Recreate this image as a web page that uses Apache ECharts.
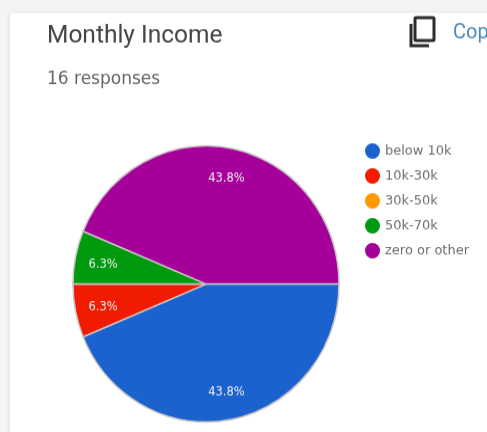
<!DOCTYPE html>
<html>
<head>
<meta charset="utf-8">
<style>
html,body{margin:0;padding:0;background:#f4f4f4;overflow:hidden;width:487px;height:432px}
/* The whole card is drawn slightly taller than wide */
#c{width:487px;height:416px;transform:scaleY(1.038);transform-origin:0 0}
</style>
<script src="https://cdn.jsdelivr.net/npm/echarts@6/dist/echarts.min.js"></script>
</head>
<body>
<div id="c"></div>
<script>
const categories = ['below 10k', '10k-30k', '30k-50k', '50k-70k', 'zero or other'];
const responses = [7, 1, 0, 1, 7];
const sliceColors = ['#1c62cf', '#f01b00', '#ff9900', '#009a0f', '#a5009a'];
const titleText = 'Monthly Income';
const subtitleText = '16 responses';

const total = responses.reduce((a, b) => a + b, 0);
const radius = 133;
const labelRadius = 102;

// Angle of a slice's midpoint, in radians clockwise from east.
function midAngle(index) {
  const before = responses.slice(0, index).reduce((a, b) => a + b, 0);
  return ((before + responses[index] / 2) / total) * 2 * Math.PI;
}

const chart = echarts.init(document.getElementById('c'), null, { renderer: 'canvas' });
chart.setOption({
  animation: false,
  backgroundColor: '#f4f4f4',
  textStyle: { fontFamily: 'Roboto' },
  title: [
    { text: titleText, left: 42, top: 17,
      textStyle: { fontFamily: 'Roboto', fontSize: 24.5, fontWeight: 'normal', color: '#454545' } },
    { text: subtitleText, left: 42, top: 63,
      textStyle: { fontFamily: 'DejaVu Sans', fontSize: 17, fontWeight: 'normal', color: '#666666' } }
  ],
  legend: {
    orient: 'vertical',
    left: 360,
    top: 133,
    icon: 'circle',
    itemWidth: 15,
    itemHeight: 15,
    itemGap: 9,
    selectedMode: false,
    data: categories,
    itemStyle: { borderWidth: 0 },
    textStyle: { fontFamily: 'DejaVu Sans', fontSize: 13, color: '#6e6e6e', padding: [0, 0, 0, 0] }
  },
  graphic: [
    // Card surface behind the chart
    { type: 'rect', z: -10, silent: true,
      shape: { x: 10, y: 12.5, width: 490, height: 430 },
      style: { fill: '#ffffff', shadowBlur: 5, shadowColor: 'rgba(0,0,0,0.12)' } },
    // Copy icon: outlined front sheet with the edge of a second sheet behind it
    { type: 'rect', z: 5, silent: true,
      shape: { x: 415, y: 17, width: 19, height: 22, r: 1 },
      style: { fill: 'none', stroke: '#2c2c2c', lineWidth: 3 } },
    { type: 'polyline', z: 5, silent: true,
      shape: { points: [[411, 23], [411, 44], [429, 44]] },
      style: { fill: 'none', stroke: '#2c2c2c', lineWidth: 3 } },
    { type: 'text', z: 5, silent: true, x: 453, y: 22,
      style: { text: 'Copy', fontFamily: 'Roboto', fontSize: 20, fill: '#4d8ab8' } }
  ],
  series: [{
    type: 'pie',
    center: [206, 273.6],
    radius: [0, radius],
    startAngle: 0,
    clockwise: true,
    data: categories.map((name, i) => ({
      name, value: responses[i], itemStyle: { color: sliceColors[i] }
    })),
    itemStyle: { borderColor: '#c9c4c4', borderWidth: 1.5 },
    label: {
      show: true,
      position: 'inside',
      fontFamily: 'DejaVu Sans',
      fontSize: 11.5,
      color: '#eeeeee',
      formatter: p => p.value ? (p.value / total * 100).toFixed(1) + '%' : ''
    },
    labelLine: { show: false },
    // Push the percentages out from mid-radius towards the rim
    labelLayout: p => {
      const a = midAngle(p.dataIndex);
      const shift = labelRadius - radius / 2;
      return { dx: Math.cos(a) * shift, dy: Math.sin(a) * shift + 1.5 };
    }
  }]
});
</script>
</body>
</html>
